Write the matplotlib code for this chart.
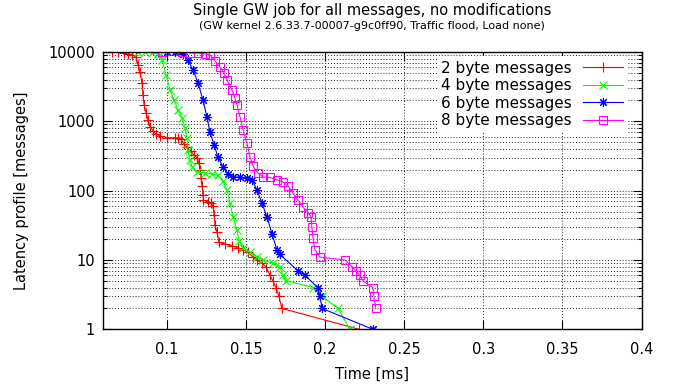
import matplotlib
matplotlib.use('Agg')
import matplotlib.pyplot as plt
from matplotlib import ticker

# latency profile per message size: time [ms] vs. messages still pending
t_2byte = [0.0655, 0.0693, 0.0730, 0.0756, 0.0781, 0.0806, 0.0819, 0.0831, 0.0844, 0.0850,
           0.0857, 0.0869, 0.0882, 0.0895, 0.0914, 0.0932, 0.0958, 0.1002, 0.1052, 0.1071,
           0.1090, 0.1109, 0.1128, 0.1153, 0.1172, 0.1191, 0.1204, 0.1210, 0.1217, 0.1223,
           0.1229, 0.1232, 0.1261, 0.1280, 0.1292, 0.1299, 0.1305, 0.1318, 0.1330, 0.1368,
           0.1412, 0.1450, 0.1482, 0.1513, 0.1545, 0.1570, 0.1602, 0.1627, 0.1652, 0.1671,
           0.1690, 0.1709, 0.1727, 0.2216]
n_2byte = [10000, 10000, 9700, 9380, 9080, 8490, 6520, 5170, 3580, 2400,
           1730, 1320, 1050, 830, 727, 658, 615, 580, 576, 572,
           557, 472, 427, 374, 327, 296, 251, 199, 152, 117,
           87, 73, 69, 67, 60, 45, 32, 25, 18, 17,
           16, 15, 14, 13, 11, 10, 9, 8, 6, 5,
           4, 3, 2, 1]

t_4byte = [0.0819, 0.0863, 0.0907, 0.0945, 0.0958, 0.0970, 0.0996, 0.1021, 0.1046, 0.1071,
           0.1097, 0.1116, 0.1128, 0.1134, 0.1147, 0.1160, 0.1191, 0.1242, 0.1286, 0.1324,
           0.1355, 0.1381, 0.1400, 0.1419, 0.1444, 0.1456, 0.1482, 0.1526, 0.1570, 0.1608,
           0.1671, 0.1715, 0.1734, 0.1756, 0.1926, 0.1981, 0.2082, 0.2157]
n_4byte = [10000, 10000, 9700, 9380, 9080, 7690, 4680, 2840, 2040, 1460,
           1120, 803, 576, 386, 277, 220, 186, 180, 174, 168,
           138, 102, 66, 42, 27, 19, 15, 13, 11, 10,
           9, 8, 6, 5, 4, 3, 2, 1]

t_6byte = [0.1002, 0.1052, 0.1103, 0.1134, 0.1166, 0.1198, 0.1229, 0.1254, 0.1273, 0.1299,
           0.1324, 0.1355, 0.1387, 0.1419, 0.1463, 0.1507, 0.1539, 0.1570, 0.1602, 0.1633,
           0.1665, 0.1696, 0.1715, 0.1829, 0.1873, 0.1955, 0.1968, 0.1981, 0.2302]
n_6byte = [10000, 10000, 9380, 7690, 5520, 3580, 2040, 1160, 703, 456,
           306, 220, 174, 158, 156, 152, 143, 102, 66, 42,
           24, 14, 12, 7, 6, 4, 3, 2, 1]

t_8byte = [0.0970, 0.1097, 0.1147, 0.1198, 0.1242, 0.1273, 0.1305, 0.1336, 0.1362, 0.1381,
           0.1412, 0.1431, 0.1444, 0.1463, 0.1482, 0.1507, 0.1526, 0.1545, 0.1576, 0.1608,
           0.1652, 0.1696, 0.1734, 0.1766, 0.1797, 0.1829, 0.1861, 0.1892, 0.1911, 0.1917,
           0.1924, 0.1936, 0.1968, 0.2126, 0.2170, 0.2195, 0.2220, 0.2239, 0.2302, 0.2308,
           0.2321]
n_8byte = [10000, 10000, 9700, 9700, 9380, 9080, 7440, 6100, 5000, 3960,
           2840, 2180, 1730, 1160, 751, 488, 306, 227, 180, 158,
           155, 143, 133, 117, 93, 73, 58, 48, 42, 30,
           21, 14, 11, 10, 8, 7, 6, 5, 4, 3,
           2]

x_ticks = [0.1, 0.15, 0.2, 0.25, 0.3, 0.35, 0.4]
y_ticks = [1, 10, 100, 1000, 10000]

series = [
    ('2 byte messages', t_2byte, n_2byte, '#ff0000', '+', 6.5),
    ('4 byte messages', t_4byte, n_4byte, '#00ff00', 'x', 5.5),
    ('6 byte messages', t_6byte, n_6byte, '#0000ff', (8, 2, 0), 6.5),
    ('8 byte messages', t_8byte, n_8byte, '#ff00ff', 's', 5.2),
]

plt.rcParams['font.family'] = ['DejaVu Sans']
plt.rcParams['font.size'] = 10.5

fig = plt.figure(figsize=(6.79, 3.86), dpi=100)
ax = fig.add_axes([0.1513, 0.1469, 0.7937, 0.7184])

for label, t, n, color, marker, size in series:
    ax.plot(t, n, color=color, lw=0.8, marker=marker, ms=size, mew=0.8,
            mfc='none' if marker == 's' else color, label=label)

ax.set_yscale('log')
ax.set_xlim(0.0596, 0.4)
ax.set_ylim(1, 10000)

ax.set_xticks(x_ticks)
ax.xaxis.set_major_formatter(ticker.FormatStrFormatter('%g'))
ax.set_yticks(y_ticks)
ax.set_yticklabels([str(v) for v in y_ticks])
ax.yaxis.set_minor_locator(ticker.LogLocator(base=10, subs=range(2, 10)))
ax.yaxis.set_minor_formatter(ticker.NullFormatter())

ax.tick_params(which='both', direction='in', top=True, right=True, width=0.8)
ax.tick_params(which='major', length=6.5)
ax.tick_params(which='minor', length=3.2)
ax.tick_params(axis='x', pad=9.5)
ax.tick_params(axis='y', pad=5.5)

ax.set_axisbelow(True)
ax.grid(which='major', axis='both', color='0.15', linestyle=(0, (1, 2)), lw=0.7)
ax.grid(which='minor', axis='y', color='0.15', linestyle=(0, (1, 2)), lw=0.7)
for sp in ax.spines.values():
    sp.set_linewidth(1.0)

ax.set_xlabel('Time [ms]', labelpad=7)
ax.set_ylabel('Latency profile [messages]', labelpad=14)

fig.text(0.5475, 0.973, 'Single GW job for all messages, no modifications',
         ha='center', va='center', fontsize=10.5)
fig.text(0.5475, 0.933, '(GW kernel 2.6.33.7-00007-g9c0ff90, Traffic flood, Load none)',
         ha='center', va='center', fontsize=8)

leg = ax.legend(loc='upper right', bbox_to_anchor=(0.973, 0.985), markerfirst=False,
                frameon=True, fancybox=False, edgecolor='none', facecolor='white',
                framealpha=1, borderpad=0.3, borderaxespad=0, handlelength=2.6,
                handletextpad=0.7, labelspacing=0.16, fontsize=11)

fig.savefig('out.png', dpi=100)
